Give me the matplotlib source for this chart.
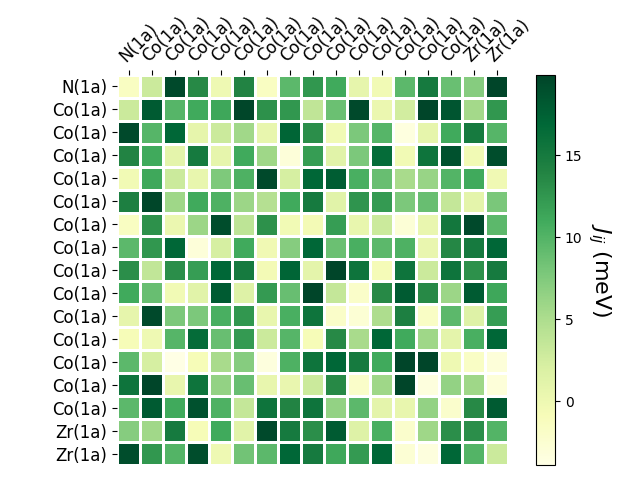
import numpy as np
import matplotlib
matplotlib.use('Agg')
import matplotlib.pyplot as plt

# site labels, same order on both axes
sites = ['N(1a)'] + ['Co(1a)'] * 14 + ['Zr(1a)'] * 2

# exchange couplings J_ij in meV (row i, column j)
J = np.array([
    [-1.5, 3.0, 19.5, 13.5, 0.0, 14.0, -1.5, 9.5, 12.5, 11.0, 0.8, -0.3, 9.5, 15.0, 8.8, 7.2, 19.9],
    [3.0, 18.0, 9.8, 11.0, 11.3, 19.8, 13.0, 12.5, 3.8, 8.7, 19.5, 0.3, 2.6, 19.9, 18.5, 5.5, 12.5],
    [19.5, 9.8, 17.0, 0.8, 3.0, 5.7, 0.6, 17.2, 13.2, -0.3, 7.8, 9.8, -3.5, 0.8, 11.0, 15.0, 9.8],
    [14.0, 11.0, 1.0, 15.0, 0.8, 11.0, 5.8, -3.0, 12.0, 1.3, 7.8, 16.5, -0.3, 15.7, 18.8, -0.3, 19.2],
    [-0.3, 11.2, 3.0, 0.6, 7.7, 10.3, 19.5, 2.3, 17.0, 17.8, 10.6, 8.9, 5.3, 6.2, 10.0, 11.0, -0.2],
    [14.5, 19.8, 5.8, 11.0, 10.3, 6.0, 4.5, 11.0, 15.0, 1.3, 12.7, 12.2, 7.8, 8.9, 3.5, 1.0, 7.9],
    [-1.5, 13.0, 0.3, 6.0, 19.2, 4.0, 13.0, -0.3, -0.5, 12.0, 0.6, 3.0, -2.8, 0.5, 15.3, 19.5, 9.5],
    [9.5, 12.5, 17.0, -3.0, 2.3, 11.0, -0.2, 7.2, 17.0, 8.7, 10.6, 9.5, 10.3, 0.5, 13.7, 15.0, 17.0],
    [13.2, 3.7, 13.2, 12.0, 17.0, 15.0, -0.5, 17.2, 1.0, 19.9, 15.7, -0.7, 15.7, 3.0, 15.7, 13.0, 15.0],
    [11.0, 8.9, -0.3, 1.3, 18.0, 1.5, 12.2, 8.9, 19.9, 3.5, -2.0, 13.5, 18.0, 13.5, 6.0, 18.0, 11.3],
    [0.8, 19.5, 7.8, 7.8, 10.6, 12.5, 0.6, 10.6, 15.7, -2.0, -2.7, 5.0, 14.5, -1.7, 9.5, 1.5, 12.0],
    [-0.8, 0.0, 9.8, 16.5, 8.9, 12.2, 3.0, 9.8, -0.8, 13.5, 5.3, 17.0, 11.0, 5.8, 1.0, 10.6, 17.0],
    [9.5, 2.3, -3.9, -0.8, 5.3, 7.2, -3.3, 10.3, 15.7, 17.0, 15.0, 11.0, 19.9, 19.9, 0.0, -1.7, -3.0],
    [15.7, 19.9, 0.6, 15.7, 6.5, 8.9, 0.6, 0.5, 3.0, 13.5, -2.0, 5.8, 19.9, -3.3, 6.5, 5.8, -3.0],
    [9.5, 18.0, 11.0, 18.8, 10.3, 3.5, 15.7, 14.0, 15.7, 6.5, 9.5, 1.0, 0.6, 6.5, -2.2, 13.5, 18.0],
    [7.2, 5.7, 15.0, -0.8, 11.0, 1.3, 19.5, 15.0, 13.2, 18.0, 1.5, 10.6, -2.2, 5.8, 13.2, 13.2, 10.0],
    [19.2, 12.5, 10.0, 19.2, 0.0, 8.3, 9.5, 17.0, 15.0, 11.2, 12.2, 17.0, -2.7, -3.3, 17.0, 10.0, 3.0],
])

fig = plt.figure(figsize=(6.4, 4.8), dpi=100)
ax = fig.add_axes([0.183, 0.031, 0.611, 0.813])
cax = fig.add_axes([0.8375, 0.031, 0.03, 0.813])

mesh = ax.pcolormesh(J, cmap='YlGn', edgecolors='white', linewidth=2)
ax.set_xlim(0, len(sites))
ax.set_ylim(len(sites), 0)
for s in ax.spines.values():
    s.set_visible(False)

ticks = np.arange(len(sites)) + 0.5
ax.xaxis.tick_top()
ax.set_xticks(ticks)
ax.set_xticklabels(sites, rotation=45, ha='left', rotation_mode='anchor', fontsize=12)
ax.set_yticks(ticks)
ax.set_yticklabels(sites, fontsize=12)

cbar = fig.colorbar(mesh, cax=cax)
cbar.set_label('$J_{ij}$ (meV)', rotation=270, fontsize=16, labelpad=22)

fig.savefig('out.png', dpi=100)
